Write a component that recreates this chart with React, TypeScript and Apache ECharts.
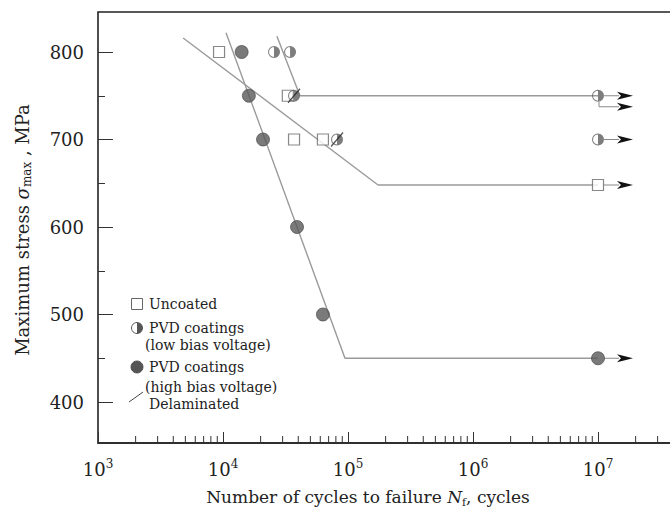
import React, { useEffect, useRef } from "react";
import * as echarts from "echarts";

// ---- data ----
const uncoatedN = [9300, 33000, 37000, 63000, 1e7];
const uncoatedS = [800, 750, 700, 700, 648];

const lowBiasN = [25600, 34400, 37000, 81700, 1e7, 1e7];
const lowBiasS = [800, 800, 750, 700, 750, 700];

const highBiasN = [14100, 16100, 20900, 39100, 63000, 1e7];
const highBiasS = [800, 750, 700, 600, 500, 450];

const delamN = [37000, 81700];
const delamS = [750, 700];

// S-N fit lines
const fitUncoatedN = [4800, 174000, 1e7];
const fitUncoatedS = [816, 648, 648];
const fitLowN = [27000, 41300, 1e7];
const fitLowS = [818, 750, 750];
const fitHighN = [10570, 94600, 1e7];
const fitHighS = [822, 450, 450];

// run-out arrows: [N, S, stack index]
const runoutN = [1e7, 1e7, 1e7, 1e7, 1e7];
const runoutS = [750, 750, 700, 648, 450];
const runoutIdx = [0, 1, 0, 0, 0];

// minor ticks on log x axis
const minorMult = [2, 3, 4, 5, 6, 7, 8, 9];
const decades = [1e3, 1e4, 1e5, 1e6, 1e7];

const yTicks = [400, 500, 600, 700, 800];

const FONT = "DejaVu Serif";
const TXT = "#222";
const X_OFFSET = 41;

const zip = (a: number[], b: number[]) => a.map((v, i) => [v, b[i]]);

const HALF =
  "path://M10,0A10,10,0,1,1,10,20A10,10,0,1,1,10,0ZM10,1.7A8.3,8.3,0,1,0,10,18.3A8.3,8.3,0,1,0,10,1.7ZM10,0A10,10,0,0,1,10,20Z";

export default function App() {
  const ref = useRef<HTMLDivElement>(null);
  useEffect(() => {
    if (!ref.current) return;
    const chart = echarts.init(ref.current, undefined, { renderer: "svg" });
    const minorTicks: number[] = [];
    decades.forEach((d) => minorMult.forEach((m) => minorTicks.push(d * m)));

    const lineStyle = { color: "#9a9a9a", width: 1.4 };
    const fitSeries = (data: number[][]) => ({
      type: "line",
      data,
      symbol: "none",
      clip: false,
      lineStyle,
      z: 1,
      silent: true,
    });
    const legendFont = `14px "${FONT}"`;

    const option: any = {
      animation: false,
      backgroundColor: "#fff",
      grid: { left: 98, right: 37, top: 52, bottom: 109 },
      xAxis: {
        type: "log",
        logBase: 10,
        min: 1e3,
        max: 1e8,
        offset: X_OFFSET,
        axisLine: { show: true, lineStyle: { color: "#222", width: 1.5 } },
        axisTick: { show: true, inside: true, length: 11, lineStyle: { color: "#333", width: 1 } },
        minorTick: { show: false },
        splitLine: { show: false },
        axisLabel: {
          show: true,
          margin: 15,
          showMaxLabel: false,
          formatter: (v: number) => `{b|10}{s|${Math.round(Math.log10(v))}}`,
          rich: {
            b: { fontFamily: FONT, fontSize: 18, color: TXT, lineHeight: 22 },
            s: { fontFamily: FONT, fontSize: 12, color: TXT, lineHeight: 12, verticalAlign: "top" },
          },
        },
      },
      yAxis: {
        type: "value",
        min: yTicks[0],
        max: yTicks[yTicks.length - 1],
        interval: 100,
        axisLine: { show: false },
        axisTick: { show: true, inside: true, length: 15, lineStyle: { color: "#333", width: 1 } },
        minorTick: { show: true, splitNumber: 2, length: 7, lineStyle: { color: "#333", width: 1 } },
        splitLine: { show: false },
        axisLabel: { fontFamily: FONT, fontSize: 18, color: TXT, margin: 14 },
      },
      graphic: [
        {
          type: "rect",
          shape: { x: 98, y: 12, width: 625, height: 431 },
          style: { fill: "none", stroke: "#222", lineWidth: 1.6 },
          z: 0,
          silent: true,
        },
        {
          type: "text",
          x: 22,
          y: 230,
          rotation: Math.PI / 2,
          style: {
            text: "{a|Maximum stress }{i|σ}{m|max}{a| , MPa}",
            align: "center",
            verticalAlign: "middle",
            rich: {
              a: { fontFamily: FONT, fontSize: 18, fill: TXT, lineHeight: 22 },
              i: { fontFamily: FONT, fontSize: 18, fontStyle: "italic", fill: TXT, lineHeight: 22 },
              m: { fontFamily: FONT, fontSize: 12, fill: TXT, lineHeight: 13, verticalAlign: "bottom" },
            },
          },
        },
        {
          type: "text",
          x: 368,
          y: 497,
          style: {
            text: "{a|Number of cycles to failure }{i|N}{f|f}{a|, cycles}",
            align: "center",
            verticalAlign: "middle",
            rich: {
              a: { fontFamily: FONT, fontSize: 17, fill: TXT, lineHeight: 22 },
              i: { fontFamily: FONT, fontSize: 17, fontStyle: "italic", fill: TXT, lineHeight: 22 },
              f: { fontFamily: FONT, fontSize: 11, fill: TXT, lineHeight: 13, verticalAlign: "bottom" },
            },
          },
        },
        // legend
        { type: "rect", shape: { x: 131.5, y: 298.5, width: 11, height: 11 }, style: { fill: "#fff", stroke: "#666", lineWidth: 1 } },
        { type: "text", x: 149, y: 304, style: { text: "Uncoated", font: legendFont, fill: TXT, verticalAlign: "middle" } },
        { type: "circle", shape: { cx: 137, cy: 328, r: 5.5 }, style: { fill: "#fff", stroke: "#555", lineWidth: 1 } },
        { type: "sector", shape: { cx: 137, cy: 328, r: 5.5, r0: 0, startAngle: -Math.PI / 2, endAngle: Math.PI / 2 }, style: { fill: "#555" } },
        { type: "text", x: 149, y: 328, style: { text: "PVD coatings", font: legendFont, fill: TXT, verticalAlign: "middle" } },
        { type: "text", x: 145, y: 345, style: { text: "(low bias voltage)", font: legendFont, fill: TXT, verticalAlign: "middle" } },
        { type: "circle", shape: { cx: 137, cy: 367, r: 6 }, style: { fill: "#555", stroke: "#444", lineWidth: 0.8 } },
        { type: "text", x: 149, y: 367, style: { text: "PVD coatings", font: legendFont, fill: TXT, verticalAlign: "middle" } },
        { type: "text", x: 145, y: 387, style: { text: "(high bias voltage)", font: legendFont, fill: TXT, verticalAlign: "middle" } },
        { type: "line", shape: { x1: 129, y1: 402, x2: 143, y2: 392 }, style: { stroke: "#444", lineWidth: 1 } },
        { type: "text", x: 149, y: 404, style: { text: "Delaminated", font: legendFont, fill: TXT, verticalAlign: "middle" } },
      ],
      series: [
        fitSeries(zip(fitUncoatedN, fitUncoatedS)),
        fitSeries(zip(fitLowN, fitLowS)),
        fitSeries(zip(fitHighN, fitHighS)),
        {
          type: "custom",
          name: "minorTicks",
          data: minorTicks.map((v) => [v]),
          clip: false,
          silent: true,
          renderItem: (params: any, api: any) => {
            const p = api.coord([api.value(0), yTicks[0]]);
            const y0 = p[1] + X_OFFSET;
            return {
              type: "line",
              shape: { x1: p[0], y1: y0, x2: p[0], y2: y0 - 7 },
              style: { stroke: "#333", lineWidth: 1 },
            };
          },
        },
        {
          type: "custom",
          name: "runouts",
          data: runoutN.map((n, i) => [n, runoutS[i], runoutIdx[i]]),
          clip: false,
          silent: true,
          z: 1,
          renderItem: (params: any, api: any) => {
            const p = api.coord([api.value(0), api.value(1)]);
            const k = api.value(2);
            const x = p[0];
            const ax = x + 19;
            const children: any[] = [];
            let y = p[1];
            if (k === 0) {
              children.push({ type: "line", shape: { x1: x + 6, y1: y, x2: ax + 2, y2: y }, style: { stroke: "#888", lineWidth: 1 } });
            } else {
              y = p[1] + 11;
              children.push({
                type: "polyline",
                shape: { points: [[x + 1, p[1] + 6], [x + 1, y], [ax + 2, y]] },
                style: { stroke: "#888", lineWidth: 1, fill: "none" },
              });
            }
            children.push({
              type: "polygon",
              shape: { points: [[ax, y - 4], [ax + 16, y], [ax, y + 4], [ax + 4, y]] },
              style: { fill: "#111" },
            });
            return { type: "group", children };
          },
        },
        {
          type: "scatter",
          name: "Uncoated",
          data: zip(uncoatedN, uncoatedS),
          symbol: "rect",
          symbolSize: 11,
          clip: false,
          z: 3,
          itemStyle: { color: "#fff", borderColor: "#6a6a6a", borderWidth: 1.2 },
        },
        {
          type: "scatter",
          name: "PVD low",
          data: zip(lowBiasN, lowBiasS),
          symbol: HALF,
          symbolSize: 12,
          clip: false,
          z: 4,
          itemStyle: { color: "#5c5c5c", borderWidth: 0 },
        },
        {
          type: "scatter",
          name: "PVD high",
          data: zip(highBiasN, highBiasS),
          symbol: "circle",
          symbolSize: 13,
          clip: false,
          z: 4,
          itemStyle: { color: "#595959", borderColor: "#444", borderWidth: 0.8 },
        },
        {
          type: "scatter",
          name: "Delaminated",
          data: zip(delamN, delamS),
          symbol: "path://M0,14L12,0",
          symbolSize: [12, 14],
          clip: false,
          z: 5,
          itemStyle: { color: "none", borderColor: "#222", borderWidth: 1.3 },
        },
      ],
    };
    chart.setOption(option);
    return () => chart.dispose();
  }, []);

  return (
    <div
      style={{
        position: "fixed",
        left: 0,
        top: 0,
        width: 670,
        height: 511,
        overflow: "hidden",
        background: "#fff",
      }}
    >
      <div ref={ref} style={{ width: 760, height: 511 }} />
    </div>
  );
}
